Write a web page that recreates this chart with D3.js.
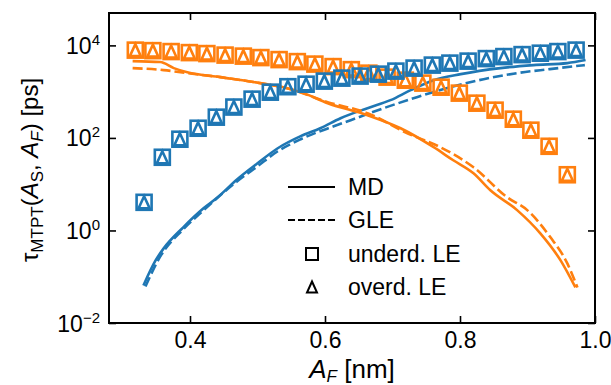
<!DOCTYPE html>
<html><head><meta charset="utf-8">
<script src="https://cdn.jsdelivr.net/npm/d3@7/dist/d3.min.js"></script>
<style>body{margin:0;background:#fff}svg{display:block}</style>
</head><body><svg id="c" width="611" height="385"></svg>
<script>
// ---- data (A_F in nm, tau in ps) ----
const blueLE_A = [0.332,0.359,0.385,0.412,0.439,0.465,0.492,0.519,0.545,0.572,0.599,0.625,0.652,0.679,0.705,0.732,0.759,0.785,0.812,0.839,0.865,0.892,0.919,0.945,0.972];
const blueUnderLE = [4.06,38.2,93.8,162,281,465,689,975,1280,1450,1690,1960,2170,2390,2780,3230,3750,4140,4570,5180,5730,6320,6780,7350,7910];
const blueOverLE  = [4.06,38.2,93.8,162,281,465,689,975,1280,1450,1690,1960,2170,2390,2780,3230,3750,4140,4570,5180,5730,6320,6780,7350,7910];
const orangeLE_A = [0.319,0.345,0.372,0.399,0.425,0.452,0.479,0.505,0.532,0.559,0.585,0.612,0.639,0.665,0.692,0.719,0.745,0.772,0.799,0.825,0.852,0.879,0.905,0.932,0.959];
const orangeUnderLE = [7900,7700,7350,6980,6650,6170,5860,5450,4930,4460,3940,3480,2990,2510,2060,1770,1530,1250,929,564,398,254,147,66,16];
const orangeOverLE  = [7900,7700,7350,6980,6650,6170,5860,5450,4930,4460,3940,3480,2990,2510,2060,1770,1530,1250,929,564,398,254,147,66,16];

const blueMD_A = [0.331,0.349,0.361,0.390,0.420,0.441,0.470,0.500,0.530,0.564,0.593,0.623,0.663,0.697,0.727,0.761,0.801,0.860,0.909,0.959,0.986];
const blueMD   = [0.0649,0.225,0.410,1.17,3.01,5.20,12.8,28.3,59.8,109,162,267,440,655,1080,1770,2390,3230,3750,4140,4810];
const blueGLE_A = [0.334,0.356,0.390,0.420,0.470,0.500,0.530,0.564,0.613,0.638,0.687,0.736,0.786,0.835,0.884,0.933,0.985];
const blueGLE   = [0.0617,0.275,1.06,2.72,11.6,24.4,51.5,93.8,179,242,440,760,1250,1860,2510,3070,3750];
const orangeMD_A = [0.315,0.356,0.376,0.396,0.445,0.494,0.544,0.568,0.604,0.663,0.712,0.761,0.790,0.820,0.845,0.885,0.919,0.949,0.971];
const orangeMD   = [4570,4360,3230,2640,2060,1610,1190,929,564,310,162,63.0,32.9,17.2,7.38,2.72,0.865,0.225,0.0586];
const orangeGLE_A = [0.315,0.361,0.396,0.445,0.494,0.544,0.604,0.663,0.722,0.771,0.820,0.870,0.900,0.934,0.959,0.974];
const orangeGLE   = [3230,2920,2510,2060,1610,1190,593,343,126,63.0,23.2,5.20,2.72,0.710,0.194,0.0586];

const xTicks = [0.4,0.6,0.8,1.0];
const xTickLabels = ["0.4","0.6","0.8","1.0"];
const yTicks = [1e-2,1e0,1e2,1e4];
const yTickExp = ["\u22122","0","2","4"];
const legendLabels = ["MD","GLE","underd. LE","overd. LE"];

// ---- layout ----
const BLUE = "#1f77b4", ORANGE = "#ff7f0e";
const L = 109, R = 595, T = 13, B = 323;
const FONT = "Liberation Sans, Arial, Helvetica, sans-serif";
const svg = d3.select("#c");
const x = d3.scaleLinear().domain([0.28, 1.0]).range([L, R]);
const y = d3.scaleLog().domain([1e-2, Math.pow(10, 4.7)]).range([B, T]);

svg.append("defs").append("clipPath").attr("id","clip")
  .append("rect").attr("x",L).attr("y",T).attr("width",R-L).attr("height",B-T);

const plot = svg.append("g").attr("clip-path","url(#clip)");
const line = d3.line().x(d=>x(d[0])).y(d=>y(d[1])).curve(d3.curveMonotoneX);
function zip(a,b){return a.map((v,i)=>[v,b[i]]);}

function drawLine(A, V, color, dashed){
  plot.append("path").datum(zip(A,V)).attr("d",line)
    .attr("fill","none").attr("stroke",color).attr("stroke-width",2.6)
    .attr("stroke-linejoin","round").attr("stroke-linecap","butt")
    .attr("stroke-dasharray", dashed ? "10,4" : null);
}
drawLine(blueMD_A, blueMD, BLUE, false);
drawLine(blueGLE_A, blueGLE, BLUE, true);
drawLine(orangeMD_A, orangeMD, ORANGE, false);
drawLine(orangeGLE_A, orangeGLE, ORANGE, true);

const sq = 15, tri = 11;
const triPath = s => `M0,${-s/2-0.5}L${s/2},${s/2+0.5}L${-s/2},${s/2+0.5}Z`;
function drawMarkers(A, under, over, color){
  const g = plot.append("g");
  g.selectAll("rect").data(zip(A,under)).join("rect")
    .attr("x",d=>x(d[0])-sq/2).attr("y",d=>y(d[1])-sq/2)
    .attr("width",sq).attr("height",sq)
    .attr("fill","none").attr("stroke",color).attr("stroke-width",2.6);
  g.selectAll("path").data(zip(A,over)).join("path")
    .attr("transform",d=>`translate(${x(d[0])},${y(d[1])})`)
    .attr("d",triPath(tri))
    .attr("fill","none").attr("stroke",color).attr("stroke-width",2.6).attr("stroke-linejoin","miter");
}
drawMarkers(orangeLE_A, orangeUnderLE, orangeOverLE, ORANGE);
drawMarkers(blueLE_A, blueUnderLE, blueOverLE, BLUE);

// ---- frame & ticks ----
svg.append("rect").attr("x",L).attr("y",T).attr("width",R-L).attr("height",B-T)
  .attr("fill","none").attr("stroke","#000").attr("stroke-width",2);
const tl = 7;
const xAxisB = d3.axisBottom(x).tickValues(xTicks).tickSizeInner(-tl).tickSizeOuter(0).tickFormat((d,i)=>xTickLabels[i]);
const xAxisT = d3.axisTop(x).tickValues(xTicks).tickSizeInner(-tl).tickSizeOuter(0).tickFormat("");
const yAxisL = d3.axisLeft(y).tickValues(yTicks).tickSizeInner(-tl).tickSizeOuter(0).tickFormat("");
const yAxisR = d3.axisRight(y).tickValues(yTicks).tickSizeInner(-tl).tickSizeOuter(0).tickFormat("");
function styleAxis(g){ g.select(".domain").remove(); g.selectAll(".tick line").attr("stroke","#000").attr("stroke-width",1.6); }
const gxb = svg.append("g").attr("transform",`translate(0,${B})`).call(xAxisB).call(styleAxis);
gxb.selectAll(".tick text").attr("font-family",FONT).attr("font-size",23).attr("fill","#000").attr("dy",null).attr("y",25);
svg.append("g").attr("transform",`translate(0,${T})`).call(xAxisT).call(styleAxis);
const gyl = svg.append("g").attr("transform",`translate(${L},0)`).call(yAxisL).call(styleAxis);
svg.append("g").attr("transform",`translate(${R},0)`).call(yAxisR).call(styleAxis);

// y tick labels with superscripts
gyl.selectAll(".tick").each(function(d,i){
  const t = d3.select(this).append("text").attr("x",-9).attr("y",8)
    .attr("text-anchor","end").attr("font-family",FONT).attr("font-size",23).attr("fill","#000");
  t.append("tspan").text("10");
  t.append("tspan").attr("dy",-9).attr("font-size",15).text(yTickExp[i]);
});

// ---- axis labels ----
const xl = svg.append("text").attr("x",(L+R)/2).attr("y",378).attr("text-anchor","middle")
  .attr("font-family",FONT).attr("font-size",26).attr("fill","#000");
xl.append("tspan").attr("font-style","italic").text("A");
xl.append("tspan").attr("font-style","italic").attr("font-size",17).attr("dy",4).text("F");
xl.append("tspan").attr("dy",-4).text(" [nm]");

const yl = svg.append("text").attr("transform",`translate(38,${(T+B)/2 + 2}) rotate(-90)`).attr("text-anchor","middle")
  .attr("font-family",FONT).attr("font-size",24).attr("fill","#000");
yl.append("tspan").text("\u03c4");
yl.append("tspan").attr("font-size",17).attr("dy",5).text("MTPT");
yl.append("tspan").attr("dy",-5).text("(");
yl.append("tspan").attr("font-style","italic").text("A");
yl.append("tspan").attr("font-size",17).attr("dy",5).text("S");
yl.append("tspan").attr("dy",-5).text(", ");
yl.append("tspan").attr("font-style","italic").text("A");
yl.append("tspan").attr("font-style","italic").attr("font-size",17).attr("dy",5).text("F");
yl.append("tspan").attr("dy",-5).text(") [ps]");

// ---- legend ----
const lg = svg.append("g");
const legY = [187, 220, 254, 287];
lg.append("line").attr("x1",288).attr("x2",335).attr("y1",legY[0]).attr("y2",legY[0]).attr("stroke","#000").attr("stroke-width",2);
lg.append("line").attr("x1",288).attr("x2",335).attr("y1",legY[1]).attr("y2",legY[1]).attr("stroke","#000").attr("stroke-width",2).attr("stroke-dasharray","7,3");
lg.append("rect").attr("x",312-6).attr("y",legY[2]-6).attr("width",12).attr("height",12).attr("fill","none").attr("stroke","#000").attr("stroke-width",2);
lg.append("path").attr("transform",`translate(312,${legY[3]})`).attr("d",triPath(10)).attr("fill","none").attr("stroke","#000").attr("stroke-width",2);
lg.selectAll("text.lab").data(legendLabels).join("text").attr("class","lab")
  .attr("x",348).attr("y",(d,i)=>legY[i]+8).attr("font-family",FONT).attr("font-size",23).attr("fill","#000").text(d=>d);
</script></body></html>
